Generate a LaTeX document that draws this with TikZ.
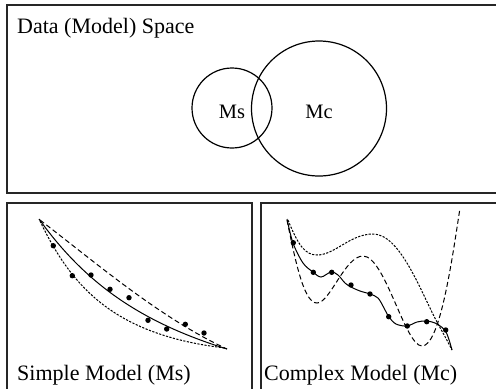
\documentclass[tikz,border=0pt]{standalone}
\usepackage{fontspec}
\setmainfont{Liberation Serif}
\begin{document}
\begin{tikzpicture}[x=1bp,y=-1bp,
  frame/.style={draw=black!85,line width=1.4bp},
  curve/.style={line width=1bp},
  longdash/.style={curve,dash pattern=on 5bp off 3bp},
  finedash/.style={curve,dash pattern=on 2.2bp off 1.4bp},
  pt/.style={circle,fill=black,inner sep=0,minimum size=5.4bp},
  lbl/.style={anchor=base west,inner sep=0,font=\fontsize{22bp}{26bp}\selectfont},
  vlbl/.style={anchor=base,inner sep=0,font=\fontsize{20.5bp}{24bp}\selectfont},
  ring/.style={circle,draw,line width=1.2bp,inner sep=0}]
\useasboundingbox (0,0) rectangle (496,388);
\begin{scope}
\clip (0,0) rectangle (496,388);
\draw[frame] (7,5) rectangle (510,193);
\draw[frame] (7,203) rectangle (252,400);
\draw[frame] (261,203) rectangle (510,400);
\end{scope}
% top panel
\node[lbl] (title) at (17,33.3) {Data (Model) Space};
\node[ring,minimum size=80bp] (ms) at (232,108) {};
\node[ring,minimum size=135bp] (mc) at (319,108.5) {};
\node[vlbl] (mslbl) at (232,118.3) {Ms};
\node[vlbl] (mclbl) at (319,118.3) {Mc};
% bottom left panel
\node[lbl] (simple) at (17,380) {Simple Model (Ms)};
\draw[curve] (39,219) .. controls (85,283) and (140,322) .. (227,349);
\draw[longdash] (40,220) .. controls (95,262) and (160,318) .. (227,349);
\draw[finedash] (40,221) .. controls (72,288) and (115,335) .. (225,348);
\foreach \p/\q [count=\i] in {53.3/245.7,72.3/275.7,91/275,110/289.3,129/297.7,148/320.3,166.7/329,185.3/324.3,204/333}
  \node[pt] (sd\i) at (\p,\q) {};
% bottom right panel
\node[lbl] (complex) at (264,380) {Complex Model (Mc)};
\draw[curve] plot[smooth,tension=0.55] coordinates {(287,219) (293,243) (303,263) (313,272) (321,277) (331,272) (338,275) (345,283) (351,287) (360,291) (370,294) (378,298) (384,308) (389,317) (396,324) (407,326) (417,322) (427,321) (437,324) (446,332) (452,350)};
\draw[longdash] (287,220) .. controls (297,270) and (305,303) .. (317,303)
  .. controls (330,303) and (345,256) .. (363,256)
  .. controls (385,256) and (405,346) .. (422,346)
  .. controls (440,346) and (452,260) .. (460,208);
\draw[finedash] (288,220) .. controls (298,245) and (305,255) .. (317,255)
  .. controls (335,255) and (350,234) .. (373,234)
  .. controls (400,234) and (420,290) .. (437,322)
  .. controls (443,333) and (448,342) .. (452,350);
\foreach \p/\q [count=\i] in {293.3/242.7,313.3/272.3,331.7/272.3,351/285,370/294,388.7/316.7,407.3/326,426.7/321.7,445.7/330}
  \node[pt] (cd\i) at (\p,\q) {};
\end{tikzpicture}
\end{document}
